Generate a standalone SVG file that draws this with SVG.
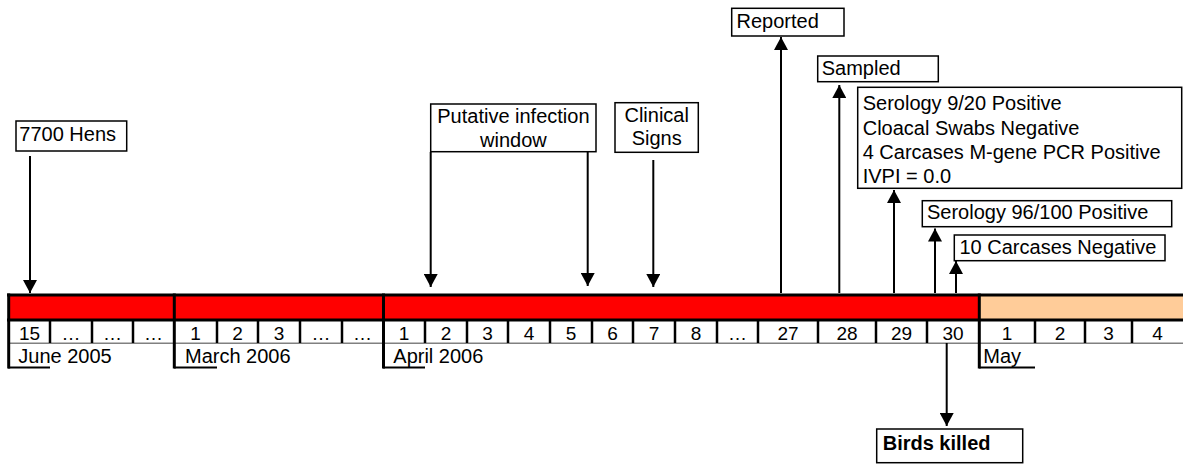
<svg xmlns="http://www.w3.org/2000/svg" width="1183" height="464" viewBox="0 0 1183 464">
<style>
text{font-family:"Liberation Sans",Arial,sans-serif;font-size:20px;fill:#000}
.c{font-size:19px;text-anchor:middle}
.m{text-anchor:middle}
.b{font-weight:bold}
.box{fill:#fff;stroke:#000;stroke-width:1.5}
.arr{stroke:#000;stroke-width:2;fill:none;marker-end:url(#ah)}
.sep{stroke:#000;stroke-width:2.5}
.msep{stroke:#000;stroke-width:3}
.br{stroke:#000;stroke-width:2}
</style>
<defs>
<marker id="ah" markerUnits="userSpaceOnUse" markerWidth="14" markerHeight="14" refX="13" refY="7" orient="auto">
<path d="M0,0 L13,7 L0,14 Z" fill="#000"/>
</marker>
</defs>
<rect width="1183" height="464" fill="#fff"/>

<g id="timeline">
<rect x="8" y="295" width="971" height="25" fill="#ff0000"/>
<rect x="979" y="295" width="204" height="25" fill="#ffcc99"/>
<rect x="8" y="321" width="1175" height="22" fill="#fff"/>
<line x1="7" y1="295" x2="1183" y2="295" class="msep"/>
<line x1="7" y1="320" x2="1183" y2="320" class="msep" stroke-width="3.5"/>
<line x1="8" y1="343.3" x2="1183" y2="343.3" stroke="#808080" stroke-width="1.5"/>
<g id="cellseps">
<line x1="50" y1="321" x2="50" y2="343" class="sep"/>
<line x1="92" y1="321" x2="92" y2="343" class="sep"/>
<line x1="133" y1="321" x2="133" y2="343" class="sep"/>
<line x1="217" y1="321" x2="217" y2="343" class="sep"/>
<line x1="258" y1="321" x2="258" y2="343" class="sep"/>
<line x1="300" y1="321" x2="300" y2="343" class="sep"/>
<line x1="342" y1="321" x2="342" y2="343" class="sep"/>
<line x1="425" y1="321" x2="425" y2="343" class="sep"/>
<line x1="467" y1="321" x2="467" y2="343" class="sep"/>
<line x1="508" y1="321" x2="508" y2="343" class="sep"/>
<line x1="550" y1="321" x2="550" y2="343" class="sep"/>
<line x1="592" y1="321" x2="592" y2="343" class="sep"/>
<line x1="633" y1="321" x2="633" y2="343" class="sep"/>
<line x1="675" y1="321" x2="675" y2="343" class="sep"/>
<line x1="717" y1="321" x2="717" y2="343" class="sep"/>
<line x1="758" y1="321" x2="758" y2="343" class="sep"/>
<line x1="818" y1="321" x2="818" y2="343" class="sep"/>
<line x1="876" y1="321" x2="876" y2="343" class="sep"/>
<line x1="927" y1="321" x2="927" y2="343" class="sep"/>
<line x1="1035" y1="321" x2="1035" y2="343" class="sep"/>
<line x1="1085" y1="321" x2="1085" y2="343" class="sep"/>
<line x1="1132" y1="321" x2="1132" y2="343" class="sep"/>
</g>
<g id="monthseps">
<line x1="8.7" y1="293.5" x2="8.7" y2="368.5" class="msep"/>
<line x1="174.3" y1="293.5" x2="174.3" y2="368.5" class="msep"/>
<line x1="383.5" y1="293.5" x2="383.5" y2="368.5" class="msep"/>
<line x1="979.3" y1="293.5" x2="979.3" y2="368.5" class="msep"/>
<line x1="8" y1="367.5" x2="50" y2="367.5" class="br"/>
<line x1="174" y1="367.5" x2="217" y2="367.5" class="br"/>
<line x1="383" y1="367.5" x2="425" y2="367.5" class="br"/>
<line x1="979" y1="367.5" x2="1035" y2="367.5" class="br"/>
</g>
<g id="cells">
<text class="c" x="29.5" y="340">15</text>
<text class="c" x="71" y="340">…</text>
<text class="c" x="112.5" y="340">…</text>
<text class="c" x="153.5" y="340">…</text>
<text class="c" x="195.5" y="340">1</text>
<text class="c" x="237.5" y="340">2</text>
<text class="c" x="279" y="340">3</text>
<text class="c" x="321" y="340">…</text>
<text class="c" x="362.5" y="340">…</text>
<text class="c" x="404" y="340">1</text>
<text class="c" x="446" y="340">2</text>
<text class="c" x="487.5" y="340">3</text>
<text class="c" x="529" y="340">4</text>
<text class="c" x="571" y="340">5</text>
<text class="c" x="612.5" y="340">6</text>
<text class="c" x="654" y="340">7</text>
<text class="c" x="696" y="340">8</text>
<text class="c" x="737.5" y="340">…</text>
<text class="c" x="788" y="340">27</text>
<text class="c" x="847" y="340">28</text>
<text class="c" x="901.5" y="340">29</text>
<text class="c" x="953" y="340">30</text>
<text class="c" x="1007" y="340">1</text>
<text class="c" x="1060" y="340">2</text>
<text class="c" x="1108.5" y="340">3</text>
<text class="c" x="1157.5" y="340">4</text>
</g>
<g id="months">
<text x="18.3" y="362.5">June 2005</text>
<text x="185" y="362.5">March 2006</text>
<text x="393.3" y="362.5">April 2006</text>
<text x="983.3" y="362.5">May</text>
</g>
</g>

<g id="connectors">
<line x1="30" y1="156" x2="30" y2="293" class="arr"/>
<line x1="430.7" y1="152" x2="430.7" y2="287" class="arr"/>
<line x1="587.7" y1="152" x2="587.7" y2="286" class="arr"/>
<line x1="653.3" y1="160" x2="653.3" y2="287" class="arr"/>
<line x1="781" y1="293" x2="781" y2="37" class="arr"/>
<line x1="839.3" y1="293" x2="839.3" y2="85" class="arr"/>
<line x1="894" y1="293" x2="894" y2="190" class="arr"/>
<line x1="935" y1="293" x2="935" y2="228.5" class="arr"/>
<line x1="956" y1="293" x2="956" y2="261" class="arr"/>
<line x1="946.7" y1="343" x2="946.7" y2="426" class="arr"/>
</g>

<g id="hens">
<rect class="box" x="16" y="121" width="110.7" height="30"/>
<text x="19.3" y="140.7">7700 Hens</text>
</g>
<g id="putative">
<rect class="box" x="430.7" y="104" width="165.3" height="47.7"/>
<text class="m" x="513.4" y="123.3">Putative infection</text>
<text class="m" x="513.4" y="146.5">window</text>
</g>
<g id="clinical">
<rect class="box" x="615" y="102.7" width="83.3" height="49.6"/>
<text class="m" x="656.7" y="121.7">Clinical</text>
<text class="m" x="656.7" y="145">Signs</text>
</g>
<g id="reported">
<rect class="box" x="731.7" y="8.3" width="112.3" height="27.7"/>
<text x="736.5" y="28.3">Reported</text>
</g>
<g id="sampled">
<rect class="box" x="817.7" y="56" width="120.6" height="25.7"/>
<text x="821.7" y="75">Sampled</text>
</g>
<g id="results1">
<rect class="box" x="857.7" y="87.3" width="324" height="101"/>
<text x="862.7" y="110">Serology 9/20 Positive</text>
<text x="862.7" y="134.5">Cloacal Swabs Negative</text>
<text x="862.7" y="158.5">4 Carcases M-gene PCR Positive</text>
<text x="862.7" y="183">IVPI = 0.0</text>
</g>
<g id="serology96">
<rect class="box" x="922.3" y="200.7" width="249.4" height="26"/>
<text x="927" y="219">Serology 96/100 Positive</text>
</g>
<g id="carcases10">
<rect class="box" x="954.3" y="235" width="210.7" height="25.7"/>
<text x="959.5" y="253.5">10 Carcases Negative</text>
</g>
<g id="killed">
<rect class="box" x="876.7" y="429" width="146" height="33.7" stroke-width="2"/>
<text class="b" x="882.7" y="450">Birds killed</text>
</g>
</svg>
